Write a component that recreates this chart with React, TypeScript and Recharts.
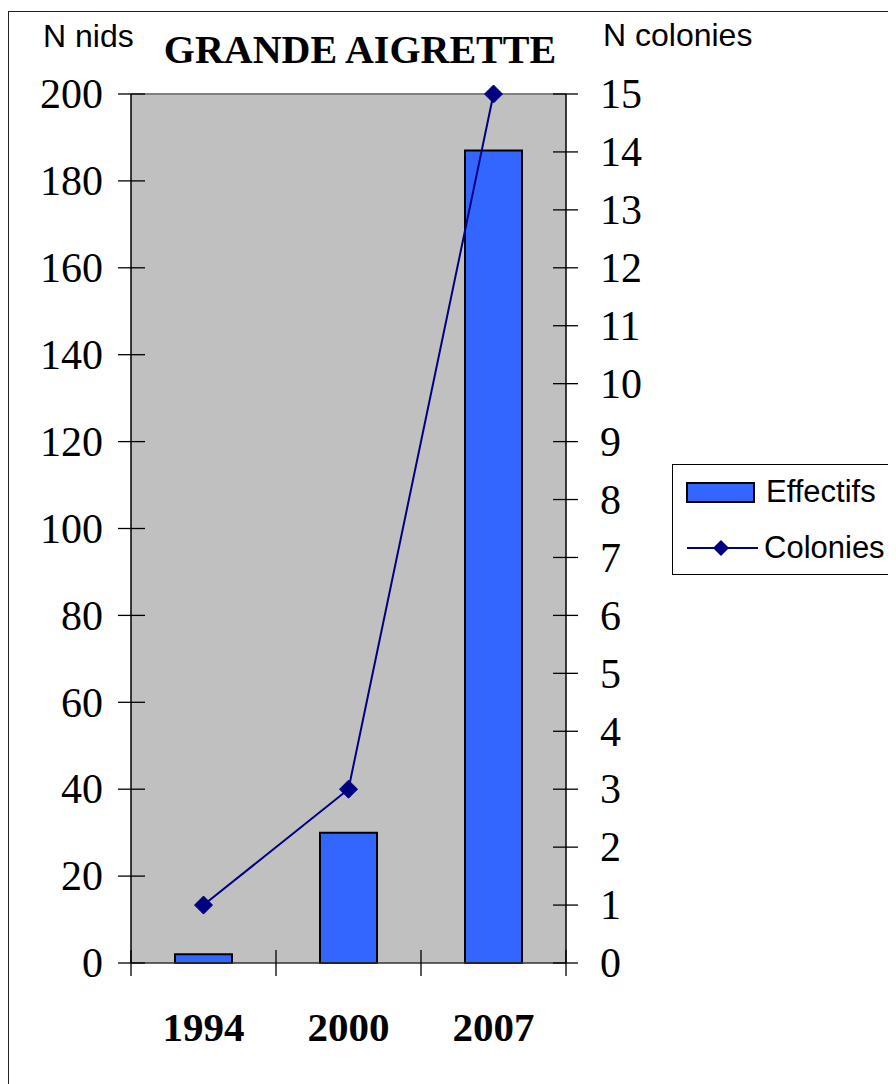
import React from 'react';
import {
  ComposedChart,
  Bar,
  Line,
  XAxis,
  YAxis,
  CartesianGrid,
  Legend,
  ReferenceLine,
} from 'recharts';

const years = ['1994', '2000', '2007'];
const effectifs = [2, 30, 187];
const colonies = [1, 3, 15];
const leftTicks = [0, 20, 40, 60, 80, 100, 120, 140, 160, 180, 200];
const rightTicks = [0, 1, 2, 3, 4, 5, 6, 7, 8, 9, 10, 11, 12, 13, 14, 15];

const data = years.map((y, i) => ({ year: y, effectifs: effectifs[i], colonies: colonies[i] }));

const W = 888;
const H = 1076;
const M = { top: 86, right: 270, bottom: 41, left: 0 };
const LEFT_W = 123;
const RIGHT_W = 60;
const X_H = 80;
const PLOT_W = W - M.left - M.right - LEFT_W - RIGHT_W;
const BAND = PLOT_W / years.length;

const BAR_COLOR = '#3366FF';
const LINE_COLOR = '#000080';
const SERIF = '"Liberation Serif", "Times New Roman", serif';
const SANS = '"Liberation Sans", Arial, sans-serif';

const LeftTick = (props: any) => {
  const { x, y, payload } = props;
  return (
    <g>
      <line x1={x + 15} x2={x + 42} y1={y} y2={y} stroke="#000" strokeWidth={1.3} />
      <text x={x} y={y} dy="0.34em" textAnchor="end" fontFamily={SERIF} fontSize={42} fill="#000">
        {payload.value}
      </text>
    </g>
  );
};

const RightTick = (props: any) => {
  const { x, y, payload } = props;
  return (
    <g>
      <line x1={x - 47} x2={x - 22} y1={y} y2={y} stroke="#000" strokeWidth={1.3} />
      <text x={x} y={y} dy="0.34em" textAnchor="start" fontFamily={SERIF} fontSize={42} fill="#000">
        {payload.value}
      </text>
    </g>
  );
};

const BottomTick = (props: any) => {
  const { x, y, payload, index } = props;
  const last = index === years.length - 1;
  return (
    <g>
      <line x1={x - BAND / 2} x2={x - BAND / 2} y1={y - 26} y2={y} stroke="#000" strokeWidth={1.3} />
      {last && (
        <line x1={x + BAND / 2} x2={x + BAND / 2} y1={y - 26} y2={y} stroke="#000" strokeWidth={1.3} />
      )}
      <text x={x} y={y + 65} textAnchor="middle" fontFamily={SERIF} fontWeight="bold" fontSize={41} fill="#000">
        {payload.value}
      </text>
    </g>
  );
};

const Diamond = (props: any) => {
  const { cx, cy } = props;
  if (cx == null || cy == null) return null;
  const s = 9;
  return (
    <polygon
      points={`${cx},${cy - s} ${cx + s},${cy} ${cx},${cy + s} ${cx - s},${cy}`}
      fill={LINE_COLOR}
      stroke={LINE_COLOR}
    />
  );
};

const LegendBox = () => (
  <div
    style={{
      position: 'relative',
      height: 111,
      borderTop: '1px solid #000',
      borderLeft: '1px solid #000',
      borderBottom: '1px solid #000',
      boxSizing: 'border-box',
      fontFamily: SANS,
      fontSize: 31,
      color: '#000',
      background: '#fff',
    }}
  >
    <svg width={90} height={111} style={{ position: 'absolute', left: 0, top: 0 }}>
      <rect x={14} y={18} width={67} height={19} fill={BAR_COLOR} stroke="#000" strokeWidth={2} />
      <line x1={14} x2={85} y1={83} y2={83} stroke={LINE_COLOR} strokeWidth={2} />
      <polygon points="48,75 56,83 48,91 40,83" fill={LINE_COLOR} />
    </svg>
    <div style={{ position: 'absolute', left: 93, top: 26, transform: 'translateY(-50%)', lineHeight: 1, whiteSpace: 'nowrap' }}>
      Effectifs
    </div>
    <div style={{ position: 'absolute', left: 91, top: 82, transform: 'translateY(-50%)', lineHeight: 1, whiteSpace: 'nowrap' }}>
      Colonies
    </div>
  </div>
);

export default function App() {
  return (
    <div style={{ position: 'relative', width: W, height: H }}>
      <style>{`html,body{overflow:hidden;}`}</style>
      <div
        style={{
          position: 'absolute',
          left: 0,
          top: 3,
          width: W,
          height: H + 8,
          borderTop: '1px solid #222',
          borderLeft: '1px solid #222',
          boxSizing: 'border-box',
        }}
      />
      <ComposedChart width={W} height={H} data={data} margin={M}>
        <CartesianGrid horizontal={false} vertical={false} fill="#C0C0C0" yAxisId="left" />
        <XAxis
          dataKey="year"
          xAxisId={0}
          height={X_H}
          tickSize={13}
          tickMargin={0}
          tickLine={false}
          interval={0}
          tick={<BottomTick />}
          axisLine={{ stroke: '#333', strokeWidth: 1.3 }}
        />
        <YAxis
          yAxisId="left"
          orientation="left"
          width={LEFT_W}
          domain={[0, 200]}
          ticks={leftTicks}
          interval={0}
          tickSize={13}
          tickMargin={15}
          tickLine={false}
          tick={<LeftTick />}
          axisLine={{ stroke: '#000', strokeWidth: 1.5 }}
        />
        <YAxis
          yAxisId="right"
          orientation="right"
          width={RIGHT_W}
          domain={[0, 15]}
          ticks={rightTicks}
          interval={0}
          tickSize={12}
          tickMargin={22}
          tickLine={false}
          tick={<RightTick />}
          axisLine={{ stroke: '#000', strokeWidth: 1.5 }}
        />
        <ReferenceLine yAxisId="left" y={200} stroke="#808080" strokeWidth={2} />
        <Bar
          yAxisId="left"
          dataKey="effectifs"
          name="Effectifs"
          fill={BAR_COLOR}
          stroke="#000"
          strokeWidth={2}
          barSize={57}
          isAnimationActive={false}
        />
        <Line
          yAxisId="right"
          type="linear"
          dataKey="colonies"
          name="Colonies"
          stroke={LINE_COLOR}
          strokeWidth={2}
          dot={<Diamond />}
          activeDot={false}
          isAnimationActive={false}
        />
        <Legend
          layout="horizontal"
          align="center"
          verticalAlign="middle"
          content={<LegendBox />}
          wrapperStyle={{ left: 664, top: 456, width: 224, height: 111 }}
        />
      </ComposedChart>
      <svg width={W} height={80} style={{ position: 'absolute', left: 0, top: 0, pointerEvents: 'none' }}>
        <text x={35} y={39} fontFamily={SANS} fontSize={32} fill="#000">N nids</text>
        <text x={352} y={55} textAnchor="middle" fontFamily={SERIF} fontWeight="bold" fontSize={40} fill="#000">
          GRANDE AIGRETTE
        </text>
        <text x={595} y={38} fontFamily={SANS} fontSize={32} fill="#000">N colonies</text>
      </svg>
    </div>
  );
}
